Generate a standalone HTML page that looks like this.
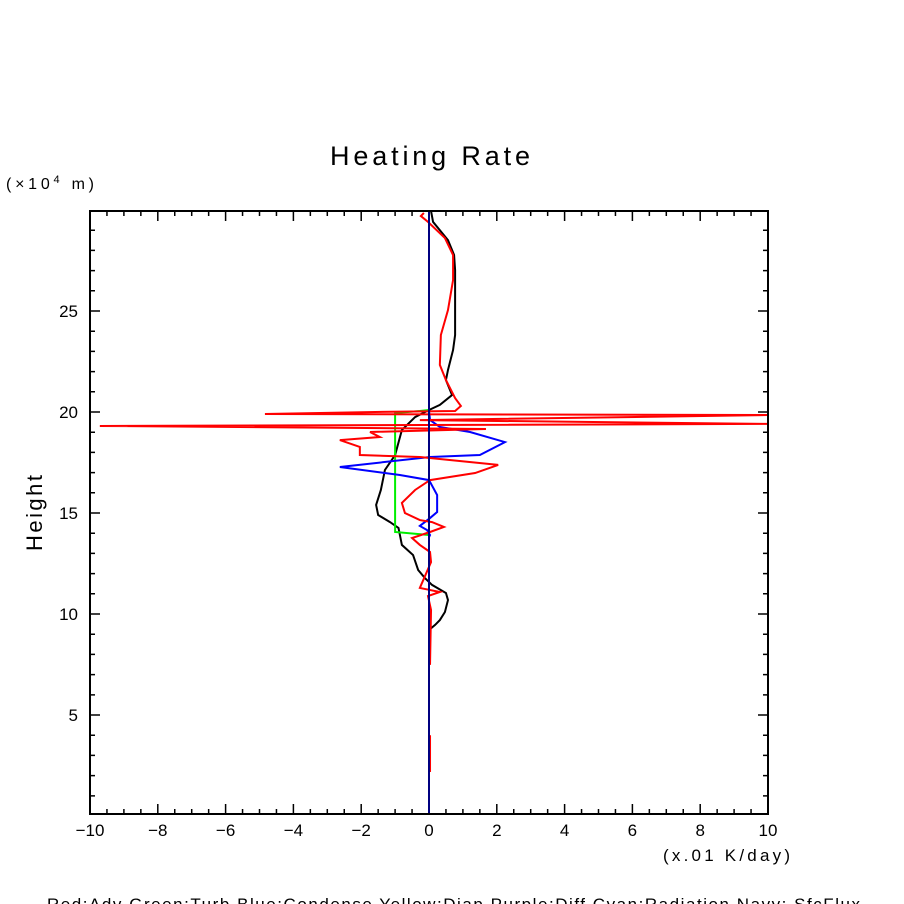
<!DOCTYPE html>
<html><head><meta charset="utf-8"><style>
html,body{margin:0;padding:0;background:#fff;}
svg{display:block;font-family:"Liberation Sans",sans-serif;}
</style></head><body>
<svg id="chart" width="904" height="904" viewBox="0 0 904 904" xmlns="http://www.w3.org/2000/svg">
<rect width="904" height="904" fill="#fff"/>
<text x="330" y="165" font-size="27" textLength="200" lengthAdjust="spacing">Heating Rate</text>
<text x="6" y="189" font-size="16" textLength="88" lengthAdjust="spacing">(×10<tspan font-size="11" dy="-6">4</tspan><tspan dy="6"> m)</tspan></text>
<text x="42" y="513" font-size="22" text-anchor="middle" textLength="76" lengthAdjust="spacing" transform="rotate(-90 42 513)">Height</text>
<text x="663" y="861" font-size="17" textLength="127" lengthAdjust="spacing">(x.01 K/day)</text>
<text x="47" y="910" font-size="17" textLength="813" lengthAdjust="spacing">Red:Adv  Green:Turb  Blue:Condense  Yellow:Diap  Purple:Diff  Cyan:Radiation  Navy: SfcFlux</text>
<g id="ticks"></g>
<g id="series"></g>
<rect x="90" y="211" width="678" height="603" fill="none" stroke="#000" stroke-width="2"/>
</svg>
<script>
const xTicks = [-10,-8,-6,-4,-2,0,2,4,6,8,10];
const yTicks = [5,10,15,20,25];
const blackX = [0.06,0.12,0.56,0.74,0.77,0.77,0.71,0.56,0.50,0.68,0.32,0.0,-0.41,-0.8,-1.0,-1.3,-1.42,-1.56,-1.5,-1.15,-0.9,-0.8,-0.47,-0.32,-0.12,0.09,0.5,0.56,0.47,0.32,0.18,0.0,0.0];
const blackH = [29.95,29.41,28.51,27.77,27.03,23.81,23.07,22.08,21.58,20.84,20.35,20.10,19.75,19.11,17.87,17.13,16.14,15.40,14.90,14.55,14.26,13.42,12.92,12.18,11.78,11.44,11.04,10.69,10.10,9.70,9.46,9.21,0.1];
const redX = [-0.15,-0.24,-0.03,0.47,0.71,0.71,0.56,0.35,0.32,0.50,0.77,0.94,0.77,-1.59,-4.84,10,-0.27,10,-9.71,1.68,-1.74,-1.45,-2.63,-2.04,-2.04,-0.27,2.04,1.36,0.03,-0.41,-0.80,-0.71,-0.27,0.09,0.44,0.03,-0.50,-0.27,0.03,0.06,-0.27,0.32,-0.03,0.06,0.03];
const redH = [29.85,29.70,29.41,28.61,27.77,26.53,25.05,23.81,22.33,21.58,20.69,20.30,20.05,20.0,19.90,19.85,19.60,19.41,19.31,19.16,19.01,18.76,18.61,18.27,17.87,17.77,17.38,16.98,16.63,16.14,15.50,15.00,14.65,14.55,14.31,14.06,13.76,13.42,13.07,12.57,11.29,11.09,10.89,10.20,7.48];
const red2X = [0.03,0.03];
const red2H = [4.0,2.18];
const blueX = [0,0,0.03,0.32,1.21,2.24,1.50,0.03,-2.63,-0.86,0,0.24,0.24,0.03,-0.27,-0.06,0.03,0,0];
const blueH = [29.95,20.1,19.60,19.26,19.01,18.51,17.87,17.77,17.28,16.88,16.63,15.89,15.05,14.75,14.36,14.16,13.91,13.8,0.1];
const greenX = [0.0,-0.27,-1.0,-1.0,0.0];
const greenH = [20.1,20.05,19.95,14.06,13.91];
const navyX = [0,0];
const navyH = [0.1,29.95];

const X0=90,X1=768,Y0=814,Y1=211,XMIN=-10,XMAX=10,HMIN=0.1,HMAX=29.95;
function sx(v){return X0+(v-XMIN)/(XMAX-XMIN)*(X1-X0);}
function sy(h){return Y0-(h-HMIN)/(HMAX-HMIN)*(Y0-Y1);}
const NS="http://www.w3.org/2000/svg";
const tg=document.getElementById('ticks');
let d='';
for(let v=XMIN;v<=XMAX+1e-9;v+=0.5){const maj=Math.abs(v/2-Math.round(v/2))<1e-9;const L=maj?10:5;const x=sx(v);d+=`M${x},${Y0}v${-L}M${x},${Y1}v${L}`;}
for(let h=1;h<=29;h+=1){const maj=h%5===0;const L=maj?10:5;const y=sy(h);d+=`M${X0},${y}h${L}M${X1},${y}h${-L}`;}
const tp=document.createElementNS(NS,'path');
tp.setAttribute('d',d);tp.setAttribute('stroke','#000');tp.setAttribute('stroke-width','1.5');


tg.appendChild(tp);
xTicks.forEach(v=>{const t=document.createElementNS(NS,'text');t.setAttribute('x',sx(v));t.setAttribute('y',836);t.setAttribute('font-size','17');t.setAttribute('text-anchor','middle');t.textContent=v<0?'\u2212'+(-v):String(v);


tg.appendChild(t);});
yTicks.forEach(v=>{const t=document.createElementNS(NS,'text');t.setAttribute('x',78);t.setAttribute('y',sy(v)+6);t.setAttribute('font-size','17');t.setAttribute('text-anchor','end');t.textContent=String(v);


tg.appendChild(t);});
const sg=document.getElementById('series');
function line(xs,hs,color,name){const p=document.createElementNS(NS,'polyline');p.setAttribute('points',xs.map((v,i)=>sx(v)+','+sy(hs[i])).join(' '));p.setAttribute('fill','none');p.setAttribute('stroke',color);p.setAttribute('stroke-width','2');


sg.appendChild(p);}
line(blackX,blackH,'#000','black-series');
line(greenX,greenH,'#00ee00','turb-series');
line(blueX,blueH,'#0000ff','condense-series');
line(redX,redH,'#ff0000','adv-series');
line(red2X,red2H,'#ff0000','adv-series-lower');
line(navyX,navyH,'#000080','sfcflux-series');
</script>
</body></html>
